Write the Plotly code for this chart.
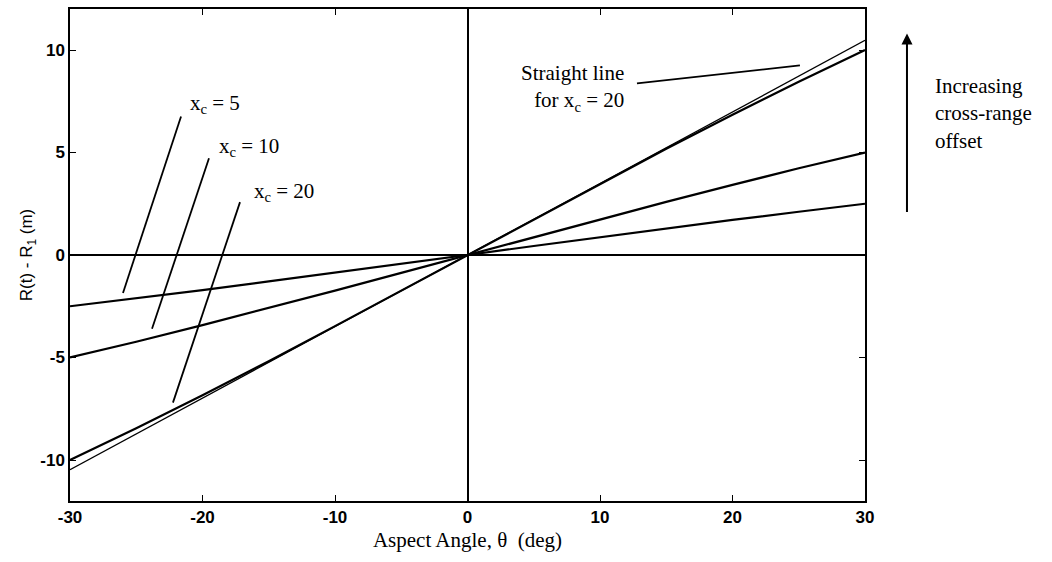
import plotly.graph_objects as go

# Aspect angle samples (deg)
theta_deg = [-30, -25, -20, -15, -10, -5, 0, 5, 10, 15, 20, 25, 30]

# Range offset R(t) - R1 (m) for each cross-range offset x_c
range_xc5 = [-2.50, -2.11, -1.71, -1.29, -0.87, -0.44, 0.0, 0.44, 0.87, 1.29, 1.71, 2.11, 2.50]
range_xc10 = [-5.00, -4.23, -3.42, -2.59, -1.74, -0.87, 0.0, 0.87, 1.74, 2.59, 3.42, 4.23, 5.00]
range_xc20 = [-10.00, -8.45, -6.84, -5.18, -3.47, -1.74, 0.0, 1.74, 3.47, 5.18, 6.84, 8.45, 10.00]

# Straight-line approximation for x_c = 20
straight_theta = [-30, 30]
straight_xc20 = [-10.47, 10.47]

x_ticks = [-30, -20, -10, 0, 10, 20, 30]
x_tick_labels = ["-30", "-20", "-10", "0", "10", "20", "30"]
y_ticks = [-10, -5, 0, 5, 10]
y_tick_labels = ["-10", "-5", "0", "5", "10"]

serif = "Liberation Serif, Times New Roman, serif"
sans = "Liberation Sans, Arial, sans-serif"

fig = go.Figure()
for ys in (range_xc5, range_xc10, range_xc20):
    fig.add_trace(go.Scatter(x=theta_deg, y=ys, mode="lines",
                             line=dict(color="black", width=2.2),
                             showlegend=False, hoverinfo="skip"))
fig.add_trace(go.Scatter(x=straight_theta, y=straight_xc20, mode="lines",
                         line=dict(color="black", width=1.3),
                         showlegend=False, hoverinfo="skip"))

# Leader lines from the labels to the curves
leaders = [
    ((-26.0, -1.85), (-21.62, 6.76)),
    ((-23.81, -3.60), (-19.51, 4.72)),
    ((-22.23, -7.20), (-17.17, 2.58)),
    ((12.79, 8.37), (25.09, 9.25)),
]
for (x0, y0), (x1, y1) in leaders:
    fig.add_shape(type="line", x0=x0, y0=y0, x1=x1, y1=y1, xref="x", yref="y",
                  line=dict(color="black", width=1.8))

label_font = dict(family=serif, size=21, color="black")
fig.add_annotation(x=-21.09, y=7.35, xref="x", yref="y", text="x<sub>c</sub> = 5",
                   showarrow=False, xanchor="left", yanchor="middle", font=label_font)
fig.add_annotation(x=-18.91, y=5.25, xref="x", yref="y", text="x<sub>c</sub> = 10",
                   showarrow=False, xanchor="left", yanchor="middle", font=label_font)
fig.add_annotation(x=-16.26, y=3.06, xref="x", yref="y", text="x<sub>c</sub> = 20",
                   showarrow=False, xanchor="left", yanchor="middle", font=label_font)
fig.add_annotation(x=11.96, y=8.15, xref="x", yref="y",
                   text="Straight line<br>for x<sub>c</sub> = 20",
                   showarrow=False, xanchor="right", yanchor="middle", align="right",
                   font=label_font)

# Arrow and note at the right of the plot
fig.add_annotation(x=1.0528, y=0.950, xref="paper", yref="paper", text="",
                   showarrow=True, ax=0, ay=180, axref="pixel", ayref="pixel",
                   arrowhead=2, arrowsize=1.1, arrowwidth=2, arrowcolor="black")
fig.add_annotation(x=1.0855, y=0.788, xref="paper", yref="paper",
                   text="Increasing<br>cross-range<br>offset",
                   showarrow=False, xanchor="left", yanchor="middle", align="left",
                   font=label_font)

axis_common = dict(
    showline=True, mirror="ticks", linecolor="black", linewidth=1.5,
    ticks="inside", ticklen=6, tickwidth=1.3, tickcolor="black",
    showgrid=False, zeroline=True, zerolinecolor="black", zerolinewidth=1.5,
    tickfont=dict(family=sans, size=17, color="black", weight="bold"),
)

fig.update_layout(
    width=1052, height=562,
    margin=dict(l=70, r=187, t=7, b=61),
    paper_bgcolor="white", plot_bgcolor="white",
    xaxis=dict(range=[-30, 30], tickvals=x_ticks, ticktext=x_tick_labels,
               title=dict(text="Aspect Angle, θ  (deg)", standoff=6,
                          font=dict(family=serif, size=21, color="black")),
               **axis_common),
    yaxis=dict(range=[-12, 12], tickvals=y_ticks, ticktext=y_tick_labels,
               title=dict(text="R(t) - R<sub>1</sub> (m)", standoff=3,
                          font=dict(family=sans, size=17, color="black")),
               **axis_common),
)

fig.write_html("out.html")
